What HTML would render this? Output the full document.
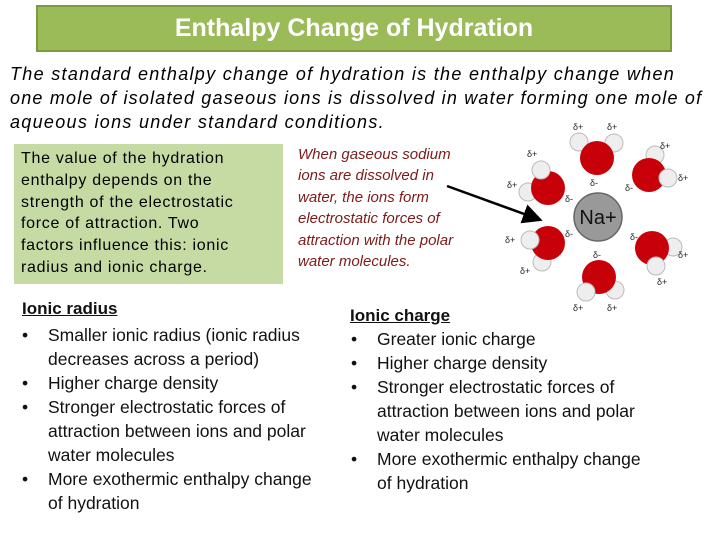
<!DOCTYPE html>
<html><head><meta charset="utf-8"><style>
body{margin:0;width:720px;height:540px;background:#fff;position:relative;overflow:hidden;font-family:"Liberation Sans",sans-serif}
.a{position:absolute;white-space:nowrap}
#title{left:36px;top:5px;width:632px;height:43px;background:#9bbb59;border:2px solid #7a9a3e;color:#fff;font-weight:bold;font-size:25px;text-align:center;line-height:43px}
.intro{font-style:italic;font-size:18px;letter-spacing:1.3px;color:#000;left:10px}
#gbox{left:14px;top:144px;width:269px;height:140px;background:#c6dba3}
.gt{font-size:16px;letter-spacing:0.7px;left:21px;color:#000}
.rt{font-style:italic;font-size:15px;color:#7d1a1a;left:298px}
.bl{font-size:17.5px;color:#111}
.h{font-weight:bold;text-decoration:underline;font-size:17px}
.li{position:absolute;white-space:nowrap;font-size:17.5px;color:#111;line-height:24px}
.li b{position:absolute;font-weight:normal;left:-26px}
</style></head><body>
<div id="title" class="a">Enthalpy Change of Hydration</div>
<div class="a intro" style="top:64px">The standard enthalpy change of hydration is the enthalpy change when</div>
<div class="a intro" style="top:88px;letter-spacing:1.2px">one mole of isolated gaseous ions is dissolved in water forming one mole of</div>
<div class="a intro" style="top:112px">aqueous ions under standard conditions.</div>
<div id="gbox" class="a"></div>
<div class="a gt" style="top:150px">The value of the hydration</div>
<div class="a gt" style="top:172px">enthalpy depends on the</div>
<div class="a gt" style="top:194px">strength of the electrostatic</div>
<div class="a gt" style="top:215px">force of attraction. Two</div>
<div class="a gt" style="top:237px">factors influence this: ionic</div>
<div class="a gt" style="top:259px">radius and ionic charge.</div>
<div class="a rt" style="top:146px">When gaseous sodium</div>
<div class="a rt" style="top:167px">ions are dissolved in</div>
<div class="a rt" style="top:189px">water, the ions form</div>
<div class="a rt" style="top:210px">electrostatic forces of</div>
<div class="a rt" style="top:232px">attraction with the polar</div>
<div class="a rt" style="top:253px">water molecules.</div>
<svg class="a" style="left:0;top:0" width="720" height="540">
<defs><marker id="ah" markerWidth="8" markerHeight="8" refX="6" refY="4" orient="auto"><path d="M0,0L8,4L0,8z" fill="#000"/></marker></defs>
<line x1="447" y1="186" x2="538" y2="219" stroke="#000" stroke-width="2.5" marker-end="url(#ah)"/>
<g font-size="9" fill="#222" font-family="Liberation Sans,DejaVu Sans,sans-serif">
<circle cx="579" cy="142" r="9" fill="#eee" stroke="#bbb"/><circle cx="614" cy="143" r="9" fill="#eee" stroke="#bbb"/>
<circle cx="597" cy="158" r="17" fill="#c8000a"/>
<circle cx="655" cy="155" r="9" fill="#eee" stroke="#bbb"/>
<circle cx="649" cy="175" r="17" fill="#c8000a"/><circle cx="668" cy="178" r="9" fill="#eee" stroke="#bbb"/>
<circle cx="528" cy="192" r="9" fill="#eee" stroke="#bbb"/>
<circle cx="548" cy="188" r="17" fill="#c8000a"/><circle cx="541" cy="170" r="9" fill="#eee" stroke="#bbb"/>
<circle cx="542" cy="262" r="9" fill="#eee" stroke="#bbb"/>
<circle cx="548" cy="243" r="17" fill="#c8000a"/><circle cx="530" cy="240" r="9" fill="#eee" stroke="#bbb"/>
<circle cx="673" cy="247" r="9" fill="#eee" stroke="#bbb"/>
<circle cx="652" cy="248" r="17" fill="#c8000a"/><circle cx="656" cy="266" r="9" fill="#eee" stroke="#bbb"/>
<circle cx="615" cy="290" r="9" fill="#eee" stroke="#bbb"/>
<circle cx="599" cy="277" r="17" fill="#c8000a"/><circle cx="586" cy="292" r="9" fill="#eee" stroke="#bbb"/>
<circle cx="598" cy="217" r="24" fill="#999" stroke="#666" stroke-width="1.5"/>
<text x="598" y="224" font-size="20" text-anchor="middle" fill="#111">Na+</text>
<text x="573" y="130">δ+</text><text x="607" y="130">δ+</text><text x="660" y="149">δ+</text><text x="678" y="181">δ+</text>
<text x="527" y="157">δ+</text><text x="507" y="188">δ+</text><text x="505" y="243">δ+</text><text x="520" y="274">δ+</text>
<text x="678" y="258">δ+</text><text x="657" y="285">δ+</text><text x="573" y="311">δ+</text><text x="607" y="311">δ+</text>
<text x="590" y="186">δ-</text><text x="625" y="191">δ-</text><text x="565" y="202">δ-</text><text x="565" y="237">δ-</text>
<text x="630" y="240">δ-</text><text x="593" y="258">δ-</text>
</g></svg>
<div class="a bl h" style="left:22px;top:299px">Ionic radius</div>
<div class="li" style="left:48px;top:323px"><b>•</b>Smaller ionic radius (ionic radius<br>decreases across a period)<br><b>•</b>Higher charge density<br><b>•</b>Stronger electrostatic forces of<br>attraction between ions and polar<br>water molecules<br><b>•</b>More exothermic enthalpy change<br>of hydration</div>
<div class="a bl h" style="left:350px;top:306px">Ionic charge</div>
<div class="li" style="left:377px;top:327px"><b>•</b>Greater ionic charge<br><b>•</b>Higher charge density<br><b>•</b>Stronger electrostatic forces of<br>attraction between ions and polar<br>water molecules<br><b>•</b>More exothermic enthalpy change<br>of hydration</div>
</body></html>
